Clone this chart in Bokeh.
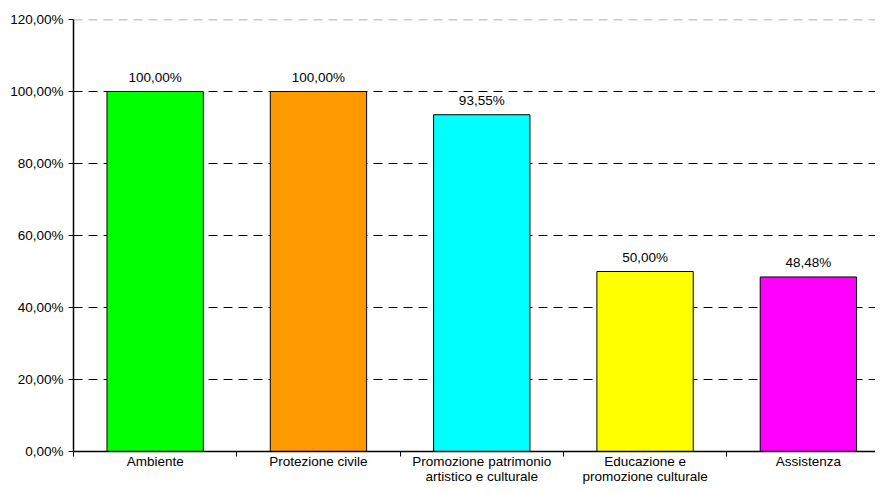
from bokeh.plotting import figure
from bokeh.models import Range1d, FixedTicker, Span, ColumnDataSource
from bokeh.embed import file_html
from bokeh.resources import INLINE
from bokeh.core.properties import value

categories = ["Ambiente", "Protezione civile", "Promozione patrimonio\nartistico e culturale",
              "Educazione e\npromozione culturale", "Assistenza"]
values = [100.00, 100.00, 93.55, 50.00, 48.48]
colors = ["#00FF00", "#FF9900", "#00FFFF", "#FFFF00", "#FF00FF"]
bar_labels = ["100,00%", "100,00%", "93,55%", "50,00%", "48,48%"]
y_ticks = [0, 20, 40, 60, 80, 100, 120]
y_tick_labels = ["0,00%", "20,00%", "40,00%", "60,00%", "80,00%", "100,00%", "120,00%"]

FONT = "Liberation Sans"
FS = "13.5px"

xs = [i + 0.5 for i in range(len(categories))]
src = ColumnDataSource(dict(x=xs, top=values, color=colors, lab=bar_labels))

p = figure(width=875, height=486, output_backend="svg", toolbar_location=None,
           x_range=Range1d(0, 4.911), y_range=Range1d(0, 120),
           min_border_left=73, min_border_right=0, min_border_top=19, min_border_bottom=20)
p.outline_line_color = None
p.background_fill_color = "white"
p.border_fill_color = "white"

p.xgrid.visible = False
p.ygrid.ticker = FixedTicker(ticks=[20, 40, 60, 80, 100])
p.ygrid.grid_line_color = "#000000"
p.ygrid.grid_line_dash = "9 6"
p.ygrid.grid_line_width = 1

p.add_layout(Span(location=120, dimension="width", line_color="#999999",
                  line_dash="9 6", line_width=1.5))

p.vbar(x="x", top="top", width=0.59, bottom=0, fill_color="color",
       line_color="#000000", line_width=1, source=src)

p.text(x="x", y="top", text="lab", source=src, text_align="center",
       text_baseline="alphabetic", y_offset=-14,
       text_font=value(FONT), text_font_size=FS, text_color="#000000")

# x axis: labels at category centres, ticks (minor) at category boundaries
xa = p.xaxis[0]
xa.ticker = FixedTicker(ticks=xs, minor_ticks=[0, 1, 2, 3, 4, 5])
xa.major_label_overrides = {x: c for x, c in zip(xs, categories)}
xa.major_tick_line_color = None
xa.major_tick_out = 0
xa.major_tick_in = 0
xa.minor_tick_line_color = "#000000"
xa.minor_tick_out = 5
xa.minor_tick_in = 0
xa.axis_line_color = "#000000"
xa.axis_line_width = 1.5
xa.major_label_standoff = -3
xa.major_label_text_font = FONT
xa.major_label_text_font_size = FS
xa.major_label_text_line_height = 1.0
xa.major_label_text_color = "#000000"

# y axis
ya = p.yaxis[0]
ya.ticker = FixedTicker(ticks=y_ticks)
ya.major_label_overrides = {t: l for t, l in zip(y_ticks, y_tick_labels)}
ya.major_tick_line_color = "#000000"
ya.major_tick_out = 5
ya.major_tick_in = 0
ya.minor_tick_line_color = None
ya.axis_line_color = "#000000"
ya.axis_line_width = 1.5
ya.major_label_standoff = 5
ya.major_label_text_font = FONT
ya.major_label_text_font_size = FS
ya.major_label_text_color = "#000000"

open("out.html", "w").write(file_html(p, INLINE))
